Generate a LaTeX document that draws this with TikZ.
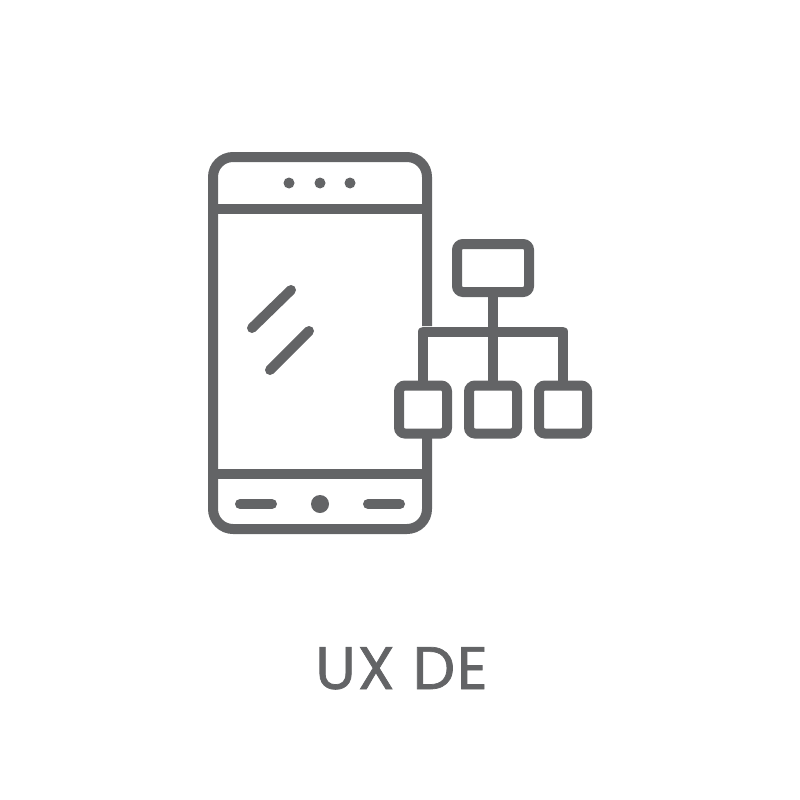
\documentclass[tikz,border=0pt]{standalone}
\usepackage{fontspec}
\setmainfont{Poppins}
\newfontfamily\titlefont[FakeBold=1.2,LetterSpace=3]{Poppins}
\definecolor{ink}{HTML}{636466}
\tikzset{
  x=1pt,y=-1pt,
  stroke/.style={draw=ink,line width=10pt},
  bar/.style={stroke,line cap=round},
  dot/.style={circle,fill=ink,inner sep=0pt,minimum size=#1},
  box/.style={stroke,rounded corners=6pt,inner sep=0pt,outer sep=0pt,minimum width=#1,minimum height=58pt},
  link/.style={stroke,line cap=butt,line join=round}
}
\begin{document}
\begin{tikzpicture}
\useasboundingbox (0,0) rectangle (800,800);
% phone
\draw[stroke,line join=round] (427,326) -- (427,177) arc[start angle=0,end angle=-90,radius=20] -- (233,157) arc[start angle=-90,end angle=-180,radius=20] -- (213,509) arc[start angle=180,end angle=90,radius=20] -- (407,529) arc[start angle=90,end angle=0,radius=20] -- (427,438);
\draw[stroke] (213,209) -- (427,209);
\draw[stroke] (213,474) -- (427,474);
\node[dot=11pt] (d1) at (289,183) {};
\node[dot=11pt] (d2) at (320,183) {};
\node[dot=11pt] (d3) at (350,183) {};
\draw[bar] (252,328) -- (291,290);
\draw[bar] (270,370) -- (309,331);
\draw[bar] (240,504) -- (272,504);
\node[dot=18pt] (home) at (320,504) {};
\draw[bar] (368,504) -- (400,504);
% chart
\node[box=72pt,minimum height=48pt] (top) at (493,268) {};
\node[box=48pt,minimum height=48pt] (left) at (423,409.5) {};
\node[box=48pt,minimum height=48pt] (mid) at (493,409.5) {};
\node[box=48pt,minimum height=48pt] (right) at (563,409.5) {};
\coordinate (busL) at (423,331.5);
\coordinate (busR) at (563,331.5);
\draw[link] (left.north) -- (busL) -- (busR) -- (right.north);
\draw[link] (top.south) -- (mid.north);
\node[font=\titlefont\fontsize{60}{60}\selectfont,text=ink,anchor=base,inner sep=0pt] (title) at (401.5,689) {UX DE};
\end{tikzpicture}
\end{document}
